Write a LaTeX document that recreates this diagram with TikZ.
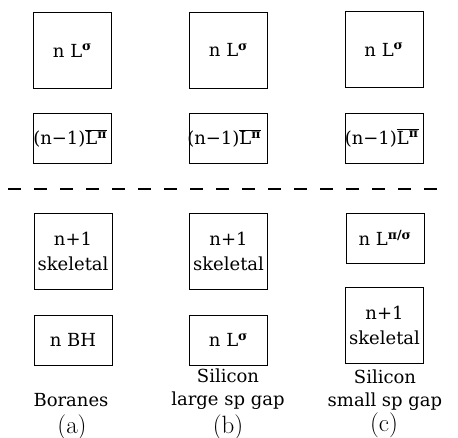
\documentclass[tikz,border=0pt]{standalone}
\usepackage{fontspec}
\newfontfamily\dejavu{DejaVu Serif}
\begin{document}
\begin{tikzpicture}[x=1pt,y=-1pt,
  lvl/.style={draw=black,line width=0.9pt,inner sep=0pt,minimum width=78pt},
  tall/.style={lvl,minimum height=76pt},
  short/.style={lvl,minimum height=50pt},
  txt/.style={font=\dejavu\fontsize{18}{25}\selectfont,align=center,inner sep=0pt},
  captxt/.style={font=\dejavu\fontsize{18}{22.5}\selectfont,align=center,inner sep=0pt},
  lettxt/.style={font=\fontsize{25}{28}\selectfont,inner sep=0pt}]
\useasboundingbox (0,0) rectangle (458,438);
\newcommand{\Sg}{\textsuperscript{\bfseries σ}}
\newcommand{\Lpi}{(n−1)$\overline{\hbox{L\textsuperscript{\bfseries π}}}$}
% column a
\node[tall]  (a1) at (72.5,50.5) {};
\node[short] (a2) at (72.5,138.5) {};
\node[tall]  (a3) at (73,251) {};
\node[short] (a4) at (73,340) {};
% column b
\node[tall]  (b1) at (228.5,50) {};
\node[short] (b2) at (228.5,138.5) {};
\node[tall]  (b3) at (228.5,251) {};
\node[short] (b4) at (228.5,340) {};
% column c
\node[tall]  (c1) at (384,49.5) {};
\node[short] (c2) at (384,138) {};
\node[short] (c3) at (385,238) {};
\node[tall]  (c4) at (384.5,325.5) {};
% texts
\node[txt] (ta1) at (a1.center) {n L\Sg};
\node[txt] (tb1) at (b1.center) {n L\Sg};
\node[txt] (tc1) at (c1.center) {n L\Sg};
\node[txt,anchor=west] (ta2) at ([xshift=0pt,yshift=0pt]a2.west) {\Lpi};
\node[txt,anchor=west] (tb2) at ([xshift=-2pt,yshift=0pt]b2.west) {\Lpi};
\node[txt,anchor=west] (tc2) at ([xshift=0pt,yshift=0pt]c2.west) {\Lpi};
\node[txt] (ta3) at (a3.center) {n+1\\skeletal};
\node[txt] (tb3) at (b3.center) {n+1\\skeletal};
\node[txt] (tc3) at (c3.center) {n L\textsuperscript{\bfseries π/σ}};
\node[txt] (tc4) at (c4.center) {n+1\\skeletal};
\node[txt] (ta4) at (a4.center) {n BH};
\node[txt] (tb4) at (b4.center) {n L\Sg};
% dashed separator
\coordinate (d1) at (8,189);
\coordinate (d2) at (437,189);
\draw[line width=1.1pt,dash pattern=on 13pt off 13pt] (d1) -- (d2);
% captions
\node[captxt] (la) at (71,400) {Boranes};
\node[captxt] (lb) at (228,389) {Silicon\\large sp gap};
\node[captxt] (lc) at (385,390) {Silicon\\small sp gap};
\node[lettxt] (pa) at (72,427) {(a)};
\node[lettxt] (pb) at (228,427) {(b)};
\node[lettxt] (pc) at (384,425) {(c)};
\end{tikzpicture}
\end{document}
